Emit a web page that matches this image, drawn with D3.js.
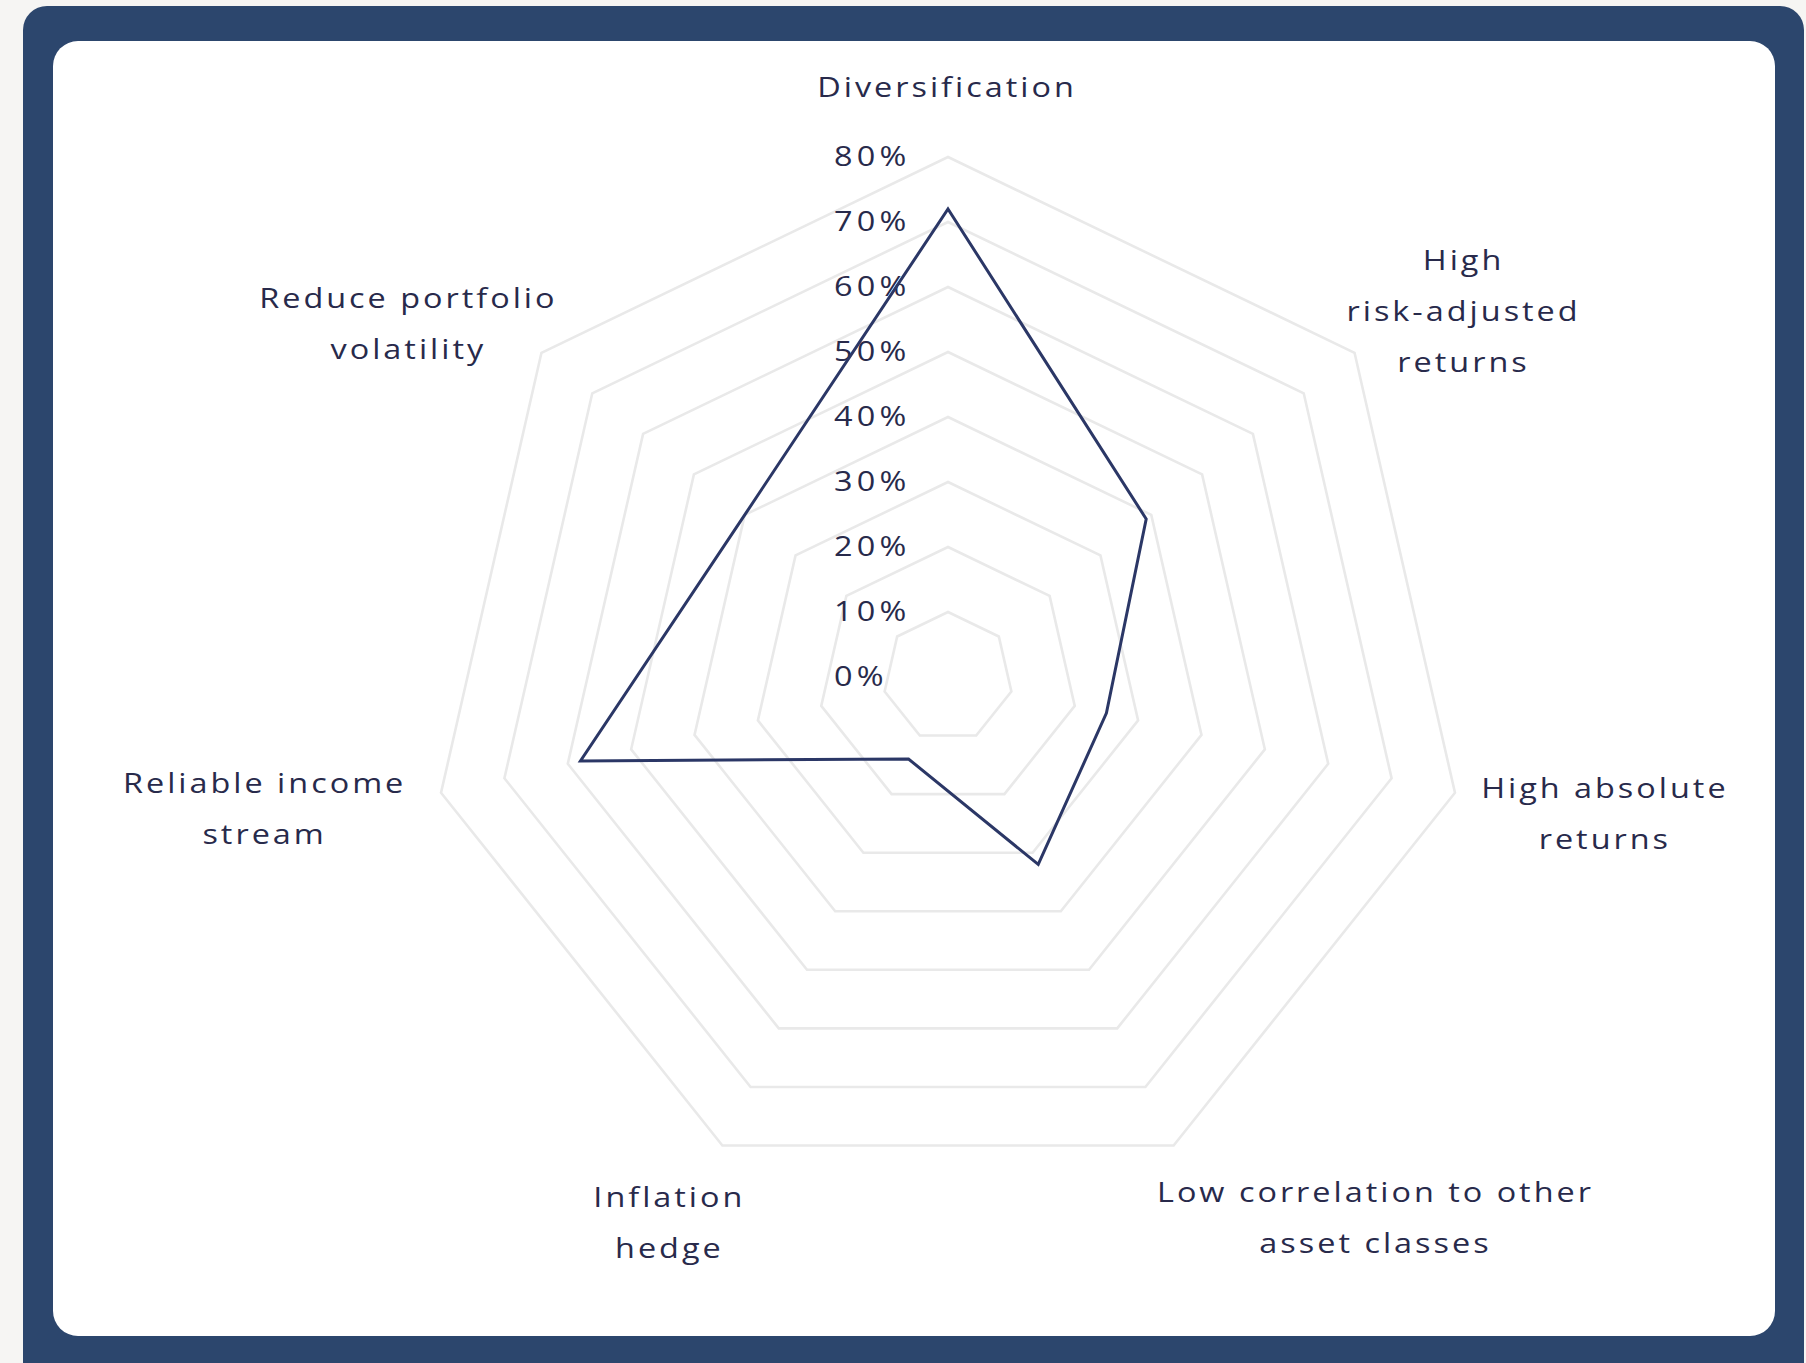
<!DOCTYPE html>
<html>
<head>
<meta charset="utf-8">
<script src="https://cdn.jsdelivr.net/npm/d3@7"></script>
<style>
  html, body { margin: 0; padding: 0; background: #f6f5f3; }
  svg { display: block; }
  text { font-family: "Open Sans", sans-serif; fill: #282a4b; }
</style>
</head>
<body>
<svg id="chart" width="1806" height="1363"></svg>
<script>
// Survey categories, clockwise from the top
const categories = [
  "Diversification",
  "High risk-adjusted returns",
  "High absolute returns",
  "Low correlation to other asset classes",
  "Inflation hedge",
  "Reliable income stream",
  "Reduce portfolio volatility"
];
// How each category is broken into lines
const categoryLines = [
  ["Diversification"],
  ["High", "risk-adjusted", "returns"],
  ["High absolute", "returns"],
  ["Low correlation to other", "asset classes"],
  ["Inflation", "hedge"],
  ["Reliable income", "stream"],
  ["Reduce portfolio", "volatility"]
];
// Share of respondents (%)
const values = [72, 39, 25, 32, 14, 58, 40];
// Radial axis ticks
const tickValues = [0, 10, 20, 30, 40, 50, 60, 70, 80];
const tickLabels = ["0%", "10%", "20%", "30%", "40%", "50%", "60%", "70%", "80%"];

// Fine adjustments for the category label blocks [dx, dy]
const labelNudge = [[-1, -22], [-6, 20], [0, 5], [94, 7], [-7, 12], [-9, 0], [7, 17]];

const svg = d3.select("#chart");

// Card frame
svg.append("rect").attr("x", 23).attr("y", 6).attr("width", 1781).attr("height", 1380)
  .attr("rx", 24).attr("fill", "#2c466d");
svg.append("rect").attr("x", 53).attr("y", 41).attr("width", 1722).attr("height", 1295)
  .attr("rx", 25).attr("fill", "#ffffff");

const cx = 948, cy = 677, R = 520;
const r = d3.scaleLinear().domain([0, 80]).range([0, R]);
const n = categories.length;
const angle = d3.scalePoint().domain(d3.range(n + 1)).range([0, 2 * Math.PI]);
const ang = i => angle(i);

// Wide lettering: glyphs stretched horizontally
const sx = 1.2;

const g = svg.append("g").attr("transform", `translate(${cx},${cy})`);

const radial = d3.lineRadial()
  .angle((d, i) => ang(i))
  .radius(d => d)
  .curve(d3.curveLinearClosed);

// Grid rings
g.selectAll("path.ring")
  .data(tickValues.filter(t => t > 0))
  .join("path")
  .attr("class", "ring")
  .attr("d", t => radial(d3.range(n).map(() => r(t))))
  .attr("fill", "none")
  .attr("stroke", "#e9e9e9")
  .attr("stroke-width", 2.6);

// Tick labels along the top axis
g.selectAll("g.tick")
  .data(tickValues)
  .join("g")
  .attr("class", "tick")
  .attr("transform", t => `translate(-114,${-r(t)}) scale(${sx},1)`)
  .append("text")
  .attr("dy", "0.35em")
  .style("font-size", "27px")
  .style("letter-spacing", "3.5px")
  .text((t, i) => tickLabels[i]);

// Data polygon
g.append("path")
  .datum(values)
  .attr("d", radial.radius(v => r(v)))
  .attr("fill", "none")
  .attr("stroke", "#2b3766")
  .attr("stroke-width", 3)
  .attr("stroke-linejoin", "miter");

// Category labels
const lineH = 51, pad = 30;
categoryLines.forEach((lines, i) => {
  const a = ang(i) - Math.PI / 2;
  const dx = Math.cos(a), dy = Math.sin(a);
  const block = g.append("g");
  const t = block.append("text")
    .attr("text-anchor", "middle")
    .style("font-size", "27px")
    .style("letter-spacing", "2.5px");
  lines.forEach((s, k) => {
    t.append("tspan").attr("x", 0).attr("y", (k - (lines.length - 1) / 2) * lineH)
      .attr("dy", "0.35em").text(s);
  });
  const bb = t.node().getBBox();
  const w = bb.width * sx, h = (lines.length - 1) * lineH + 35;
  const px = (R + pad) * dx + dx * w / 2 + labelNudge[i][0];
  const py = (R + pad) * dy + dy * h / 2 + labelNudge[i][1];
  block.attr("transform", `translate(${px},${py}) scale(${sx},1)`);
});
</script>
</body>
</html>
